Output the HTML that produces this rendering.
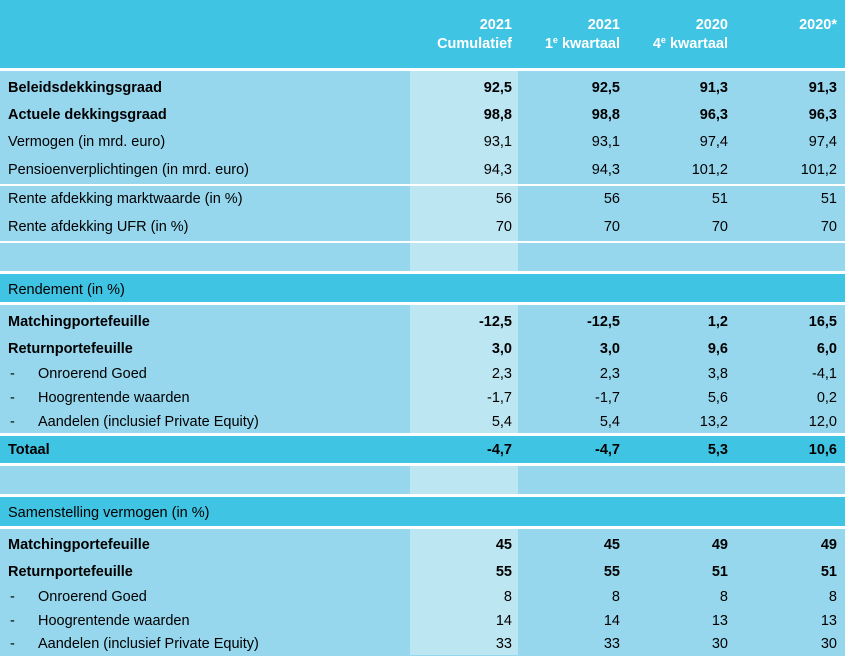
<!DOCTYPE html>
<html><head><meta charset="utf-8"><style>
body{margin:0;width:845px;height:655px;overflow:hidden;background:#96D7EE;font-family:"Liberation Sans",Arial,sans-serif;font-size:14.5px;color:#000;position:relative}
.b{position:absolute;left:0;width:845px}
.h{background:#40C4E3}
.w{background:#fff}
.lc{position:absolute;left:410px;width:108px;background:#BDE6F3}
.r{position:absolute;left:0;width:845px;height:24px;line-height:24px}
.r span{position:absolute;white-space:nowrap}
.l{left:8px}.d{left:10px}.t{left:38px}
.c1,.c2,.c3,.c4{text-align:right}
.c1{right:333px}.c2{right:225px}.c3{right:117px}.c4{right:8px}
.bd{font-weight:bold}
.hd{position:absolute;color:#fff;font-weight:bold;text-align:right;line-height:19px;top:16px}
sup{font-size:9px;vertical-align:5px;line-height:0}
</style></head><body>
<div class="b h" style="top:0;height:68px"></div>
<div class="b w" style="top:68px;height:3px"></div>
<div class="lc" style="top:71px;height:170px"></div>
<div class="b w" style="top:184px;height:2px"></div>
<div class="b w" style="top:241px;height:2px"></div>
<div class="lc" style="top:243px;height:28px"></div>
<div class="b w" style="top:271px;height:3px"></div>
<div class="b h" style="top:274px;height:28px"></div>
<div class="b w" style="top:302px;height:3px"></div>
<div class="lc" style="top:305px;height:128px"></div>
<div class="b w" style="top:433px;height:3px"></div>
<div class="b h" style="top:436px;height:27px"></div>
<div class="b w" style="top:463px;height:3px"></div>
<div class="lc" style="top:466px;height:28px"></div>
<div class="b w" style="top:494px;height:3px"></div>
<div class="b h" style="top:497px;height:29px"></div>
<div class="b w" style="top:526px;height:3px"></div>
<div class="lc" style="top:529px;height:126px"></div>

<div class="hd" style="right:333px">2021<br>Cumulatief</div>
<div class="hd" style="right:225px">2021<br>1<sup>e</sup> kwartaal</div>
<div class="hd" style="right:117px">2020<br>4<sup>e</sup> kwartaal</div>
<div class="hd" style="right:8px">2020*</div>

<div class="r bd" style="top:76px"><span class="l">Beleidsdekkingsgraad</span><span class="c1">92,5</span><span class="c2">92,5</span><span class="c3">91,3</span><span class="c4">91,3</span></div>
<div class="r bd" style="top:103px"><span class="l">Actuele dekkingsgraad</span><span class="c1">98,8</span><span class="c2">98,8</span><span class="c3">96,3</span><span class="c4">96,3</span></div>
<div class="r" style="top:130px"><span class="l">Vermogen (in mrd. euro)</span><span class="c1">93,1</span><span class="c2">93,1</span><span class="c3">97,4</span><span class="c4">97,4</span></div>
<div class="r" style="top:158px"><span class="l">Pensioenverplichtingen (in mrd. euro)</span><span class="c1">94,3</span><span class="c2">94,3</span><span class="c3">101,2</span><span class="c4">101,2</span></div>
<div class="r" style="top:187px"><span class="l">Rente afdekking marktwaarde (in %)</span><span class="c1">56</span><span class="c2">56</span><span class="c3">51</span><span class="c4">51</span></div>
<div class="r" style="top:215px"><span class="l">Rente afdekking UFR (in %)</span><span class="c1">70</span><span class="c2">70</span><span class="c3">70</span><span class="c4">70</span></div>
<div class="r" style="top:278px"><span class="l">Rendement (in %)</span></div>
<div class="r bd" style="top:310px"><span class="l">Matchingportefeuille</span><span class="c1">-12,5</span><span class="c2">-12,5</span><span class="c3">1,2</span><span class="c4">16,5</span></div>
<div class="r bd" style="top:337px"><span class="l">Returnportefeuille</span><span class="c1">3,0</span><span class="c2">3,0</span><span class="c3">9,6</span><span class="c4">6,0</span></div>
<div class="r" style="top:362px"><span class="d">-</span><span class="t">Onroerend Goed</span><span class="c1">2,3</span><span class="c2">2,3</span><span class="c3">3,8</span><span class="c4">-4,1</span></div>
<div class="r" style="top:386px"><span class="d">-</span><span class="t">Hoogrentende waarden</span><span class="c1">-1,7</span><span class="c2">-1,7</span><span class="c3">5,6</span><span class="c4">0,2</span></div>
<div class="r" style="top:410px"><span class="d">-</span><span class="t">Aandelen (inclusief Private Equity)</span><span class="c1">5,4</span><span class="c2">5,4</span><span class="c3">13,2</span><span class="c4">12,0</span></div>
<div class="r bd" style="top:438px"><span class="l">Totaal</span><span class="c1">-4,7</span><span class="c2">-4,7</span><span class="c3">5,3</span><span class="c4">10,6</span></div>
<div class="r" style="top:501px"><span class="l">Samenstelling vermogen (in %)</span></div>
<div class="r bd" style="top:533px"><span class="l">Matchingportefeuille</span><span class="c1">45</span><span class="c2">45</span><span class="c3">49</span><span class="c4">49</span></div>
<div class="r bd" style="top:560px"><span class="l">Returnportefeuille</span><span class="c1">55</span><span class="c2">55</span><span class="c3">51</span><span class="c4">51</span></div>
<div class="r" style="top:585px"><span class="d">-</span><span class="t">Onroerend Goed</span><span class="c1">8</span><span class="c2">8</span><span class="c3">8</span><span class="c4">8</span></div>
<div class="r" style="top:609px"><span class="d">-</span><span class="t">Hoogrentende waarden</span><span class="c1">14</span><span class="c2">14</span><span class="c3">13</span><span class="c4">13</span></div>
<div class="r" style="top:632px"><span class="d">-</span><span class="t">Aandelen (inclusief Private Equity)</span><span class="c1">33</span><span class="c2">33</span><span class="c3">30</span><span class="c4">30</span></div>
</body></html>
